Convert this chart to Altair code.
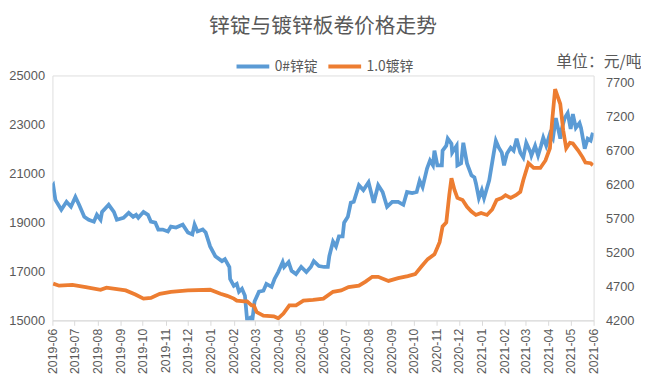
import altair as alt
import pandas as pd

TITLE = "锌锭与镀锌板卷价格走势"
UNIT = "单位：元/吨"
SERIES = ["0#锌锭", "1.0镀锌"]
COLORS = ["#5B9BD5", "#ED7D31"]
START = "2019-06-01"

# 0#锌锭 (left axis) : day offset from 2019-06-01, price
zinc_days = [0, 1, 4, 12, 19, 25, 31, 36, 43, 49, 56, 60, 65, 67, 76, 83, 87, 96, 103, 109,
             113, 116, 123, 129, 133, 139, 143, 149, 156, 160, 167, 176, 183, 189, 192, 196, 203, 207, 213, 220,
             229, 233, 239, 240, 245, 249, 252, 256, 260, 263, 267, 270, 273, 279, 285, 289, 296, 300, 305, 311,
             313, 319, 323, 329, 336, 343, 349, 353, 360, 367, 372, 374, 379, 383, 387, 392, 394, 399, 403, 407,
             414, 420, 427, 434, 440, 446, 452, 459, 467, 474, 479, 486, 492, 496, 500, 506, 510, 514, 516, 520,
             526, 527, 532, 534, 539, 540, 546, 547, 552, 555, 560, 566, 570, 572, 576, 580, 583, 590, 596, 599,
             603, 607, 610, 614, 619, 623, 627, 632, 636, 640, 646, 647, 652, 656, 660, 663, 667, 672, 676, 680,
             686, 688, 692, 696, 700, 703, 707, 712, 714, 719, 723, 727, 730]
zinc_vals = [20480, 20520, 19920, 19520, 19840, 19640, 20040, 19720, 19230, 19110, 19030, 19310, 19110, 19430, 19720, 19430, 19110, 19190, 19390, 19230,
             19310, 19190, 19430, 19310, 19030, 18990, 18710, 18710, 18630, 18830, 18790, 18910, 18590, 18510, 18910, 18630, 18710, 18590, 18020, 17620,
             17420, 17500, 17180, 16690, 16410, 16490, 16170, 16290, 16010, 15000, 15100, 15000, 15770, 16170, 16210, 16490, 16370, 16690, 16970, 17380,
             17180, 17380, 17020, 16890, 17180, 16970, 17180, 17420, 17220, 17180, 17180, 17620, 18220, 18020, 18430, 18430, 18990, 19230, 19800, 19840,
             20520, 20320, 20640, 19800, 20520, 20240, 19640, 19840, 19840, 19720, 20240, 20200, 20240, 20700, 20440, 21200, 21530, 21330, 21930, 21330,
             21330, 21930, 22130, 22420, 22210, 21850, 22130, 21330, 21410, 22250, 21410, 20920, 20840, 20600, 19990, 20320, 19990, 20720, 21810, 22330,
             22050, 21850, 21330, 21810, 22050, 21930, 22420, 21850, 21650, 22250, 21850, 21730, 22130, 21730, 22130, 22460, 22130, 22620, 22420, 23260,
             22420, 22820, 23260, 23460, 22820, 23420, 22860, 23060, 22860, 22010, 22420, 22340, 22660]

# 1.0镀锌 (right axis)
galv_days = [1, 9, 27, 45, 65, 73, 99, 112, 123, 133, 145, 160, 183, 213, 227, 236, 245, 249, 259, 263,
             269, 272, 276, 285, 299, 305, 312, 320, 329, 339, 352, 366, 379, 390, 400, 414, 423, 432, 440, 454,
             467, 480, 490, 499, 507, 516, 520, 523, 527, 532, 536, 539, 543, 547, 554, 560, 566, 572, 579, 587,
             594, 600, 607, 612, 619, 626, 632, 636, 643, 650, 659, 666, 672, 675, 679, 686, 690, 694, 699, 703,
             710, 716, 720, 727, 730]
galv_vals = [4740, 4710, 4720, 4690, 4650, 4680, 4640, 4580, 4520, 4530, 4590, 4620, 4640, 4650, 4590, 4560, 4520, 4490, 4480, 4480,
             4420, 4420, 4320, 4270, 4260, 4230, 4300, 4420, 4420, 4490, 4500, 4520, 4620, 4640, 4690, 4710, 4770, 4840, 4840, 4780,
             4820, 4850, 4880, 5000, 5100, 5170, 5270, 5350, 5580, 5640, 6040, 6290, 6120, 6000, 5970, 5870, 5800, 5750, 5780, 5750,
             5830, 5970, 6000, 6040, 6000, 6040, 6090, 6260, 6510, 6440, 6440, 6550, 6730, 7130, 7600, 7380, 6990, 6730, 6810, 6800,
             6700, 6600, 6520, 6510, 6480]

LEFT_TICKS = [15000, 17000, 19000, 21000, 23000, 25000]
RIGHT_TICKS = [4200, 4700, 5200, 5700, 6200, 6700, 7200, 7700]

start = pd.Timestamp(START)
zinc = pd.DataFrame({"date": start + pd.to_timedelta(zinc_days, unit="D"), "price": zinc_vals, "series": SERIES[0]})
galv = pd.DataFrame({"date": start + pd.to_timedelta(galv_days, unit="D"), "price": galv_vals, "series": SERIES[1]})

FONT = "Noto Sans CJK SC"
NUMFONT = "Liberation Sans"
GRAY = "#595959"

month_ticks = []
y, m = 2019, 6
for _ in range(25):
    month_ticks.append(alt.DateTime(year=y, month=m, date=1))
    m += 1
    if m > 12:
        m = 1
        y += 1

x = alt.X("date:T",
          scale=alt.Scale(domain=[alt.DateTime(year=2019, month=6, date=1),
                                  alt.DateTime(year=2021, month=6, date=1)]),
          axis=alt.Axis(values=month_ticks, format="%Y-%m", labelAngle=270, title=None,
                        grid=False, domainColor="#D9D9D9", tickColor="#D9D9D9", tickSize=5,
                        labelPadding=3, labelFontSize=12.5, labelColor=GRAY, labelFont=NUMFONT,
                        labelOverlap=False))

color = alt.Color("series:N",
                  scale=alt.Scale(domain=SERIES, range=COLORS),
                  legend=alt.Legend(orient="none", direction="horizontal", legendX=184, legendY=-28,
                                    title=None, symbolType="stroke", symbolSize=1100,
                                    symbolStrokeWidth=4, labelFontSize=14, labelColor=GRAY,
                                    labelFont=FONT, columnPadding=2, labelOffset=3))

left = alt.Chart(zinc).mark_line(strokeWidth=3.8, clip=True).encode(
    x=x,
    y=alt.Y("price:Q",
            scale=alt.Scale(domain=[15000, 25000], nice=False, zero=False),
            axis=alt.Axis(values=LEFT_TICKS, format="d", title=None, grid=False, domain=False,
                          ticks=False, labelPadding=8, labelFontSize=13, labelColor=GRAY,
                          labelFont=NUMFONT)),
    color=color,
)

right = alt.Chart(galv).mark_line(strokeWidth=3.8, clip=True).encode(
    x=x,
    y=alt.Y("price:Q",
            scale=alt.Scale(domain=[4200, 7800], nice=False, zero=False),
            axis=alt.Axis(orient="right", values=RIGHT_TICKS, format="d", grid=False, domain=False,
                          ticks=False, labelPadding=12, labelFontSize=13, labelColor=GRAY,
                          labelFont=NUMFONT,
                          title=UNIT, titleAngle=0, titleX=48, titleY=-9, titleAlign="right",
                          titleBaseline="alphabetic", titleFontSize=16, titleFontWeight="normal",
                          titleColor=GRAY, titleFont=FONT)),
    color=color,
)

chart = alt.layer(left, right).resolve_scale(y="independent").properties(
    width=548, height=248,
    title=alt.TitleParams(TITLE, fontSize=21, font=FONT, color=GRAY, fontWeight="normal",
                          anchor="middle", frame="group", offset=8, dy=-3),
    autosize=alt.AutoSizeParams(type="none"),
    padding={"left": 45, "top": 66, "right": 48, "bottom": 52},
).configure_view(stroke=None).configure(background="white")

chart.save("out.html", embed_options={"renderer": "svg", "actions": False})
